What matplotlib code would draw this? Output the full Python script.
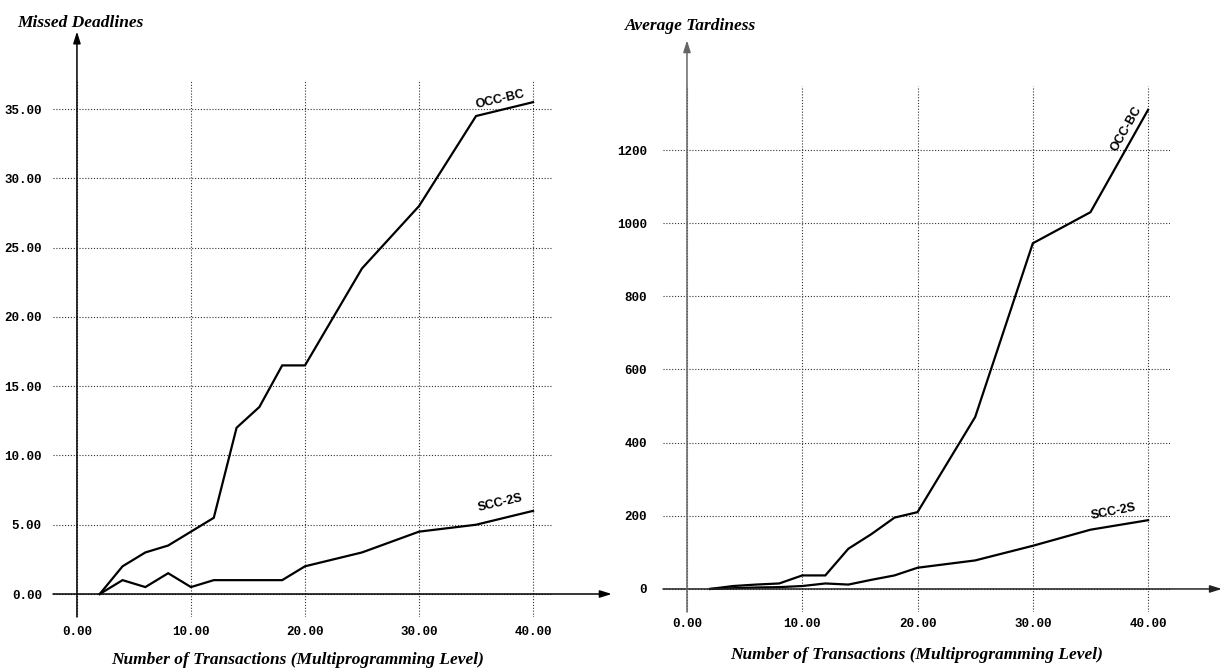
import matplotlib
matplotlib.use('Agg')
import matplotlib.pyplot as plt

# ---------------- data ----------------
x_mpl = [2, 4, 6, 8, 10, 12, 14, 16, 18, 20, 25, 30, 35, 40]
missed_occ = [0, 2, 3, 3.5, 4.5, 5.5, 12, 13.5, 16.5, 16.5, 23.5, 28, 34.5, 35.5]
missed_scc = [0, 1, 0.5, 1.5, 0.5, 1, 1, 1, 1, 2, 3, 4.5, 5, 6]
tard_occ = [0, 8, 12, 15, 37, 37, 110, 150, 195, 210, 470, 945, 1030, 1310]
tard_scc = [0, 2, 4, 5, 8, 15, 12, 25, 37, 58, 78, 118, 162, 188]

x_ticks = [0, 10, 20, 30, 40]
x_tick_labels = ['0.00', '10.00', '20.00', '30.00', '40.00']
missed_yticks = [0, 5, 10, 15, 20, 25, 30, 35]
missed_ytick_labels = ['0.00', '5.00', '10.00', '15.00', '20.00', '25.00', '30.00', '35.00']
tard_yticks = [0, 200, 400, 600, 800, 1000, 1200]
tard_ytick_labels = ['0', '200', '400', '600', '800', '1000', '1200']

series_names = ['OCC-BC', 'SCC-2S']
titles = ['Missed Deadlines', 'Average Tardiness']
xlabel = 'Number of Transactions (Multiprogramming Level)'

W, H = 1225, 671
fig = plt.figure(figsize=(W / 100, H / 100), dpi=100)


def rect(l, r, t, b):
    return [l / W, 1 - b / H, (r - l) / W, (b - t) / H]


mono = dict(family='Liberation Mono', weight='bold', size=9)
serif = dict(family='Liberation Serif', weight='bold', style='italic', size=12.5)
sans = dict(family='Liberation Sans', weight='bold', size=9)


def panel(ax, xlim, ylim, yticks, ylabels, ys, title, title_pos,
          xend, yend, ycol, xcol, xpad, ypad, lab_pos, lab_rot, xlab_y, xlab_x):
    ax.set_xlim(*xlim)
    ax.set_ylim(*ylim)
    for s in ax.spines.values():
        s.set_visible(False)
    ax.set_xticks(x_ticks)
    ax.set_xticklabels(x_tick_labels, fontdict=mono)
    ax.set_yticks(yticks)
    ax.set_yticklabels(ylabels, fontdict=mono)
    ax.tick_params(axis='x', length=0, pad=xpad)
    ax.tick_params(axis='y', length=0, pad=ypad)
    ax.grid(True, linestyle=(0, (1, 1.6)), color='#333333', linewidth=0.8)
    # axes with arrows
    ax.annotate('', xy=(xend, 0), xytext=(xlim[0], 0), annotation_clip=False,
                arrowprops=dict(arrowstyle='-|>,head_length=0.7,head_width=0.22',
                                lw=1.1, color=xcol, shrinkA=0, shrinkB=0))
    ax.annotate('', xy=(0, yend), xytext=(0, ylim[0]), annotation_clip=False,
                arrowprops=dict(arrowstyle='-|>,head_length=0.7,head_width=0.22',
                                lw=1.1, color=ycol, shrinkA=0, shrinkB=0))
    for yv, name, (lx, ly), rot in zip(ys, series_names, lab_pos, lab_rot):
        ax.plot(x_mpl, yv, color='black', lw=1.6, solid_joinstyle='miter')
        ax.text(lx, ly, name, rotation=rot, ha='center', va='center',
                fontdict=sans, rotation_mode='anchor')
    ax.text(title_pos[0], title_pos[1], title, ha='center', va='center',
            fontdict=serif, clip_on=False)
    ax.text(xlab_x, xlab_y, xlabel, ha='center', va='center', fontdict=serif,
            transform=ax.transAxes)


# Left panel: px = 77 + 11.4*x ; py = 594 - 13.86*y
ax1 = fig.add_axes(rect(53, 553, 80, 617))
panel(ax1, (-2.1, 41.75), (-1.66, 37.1), missed_yticks, missed_ytick_labels,
      [missed_occ, missed_scc], titles[0], (0.3, 41.2),
      46.9, 40.6, 'black', 'black', 6.5, 8,
      [(37.1, 35.7), (37.1, 6.6)], [13, 13], -0.08, 0.49)

# Right panel: px = 687 + 11.53*x ; py = 589 - 0.3658*y
ax2 = fig.add_axes(rect(663, 1170, 86, 612))
panel(ax2, (-2.08, 41.9), (-63, 1375), tard_yticks, tard_ytick_labels,
      [tard_occ, tard_scc], titles[1], (0.35, 1539),
      46.4, 1500, '#666666', '#222222', 4.5, 11.5,
      [(38.1, 1257), (37.0, 212)], [60, 11], -0.082, 0.50)

fig.savefig('out.png', dpi=100, facecolor='white')
